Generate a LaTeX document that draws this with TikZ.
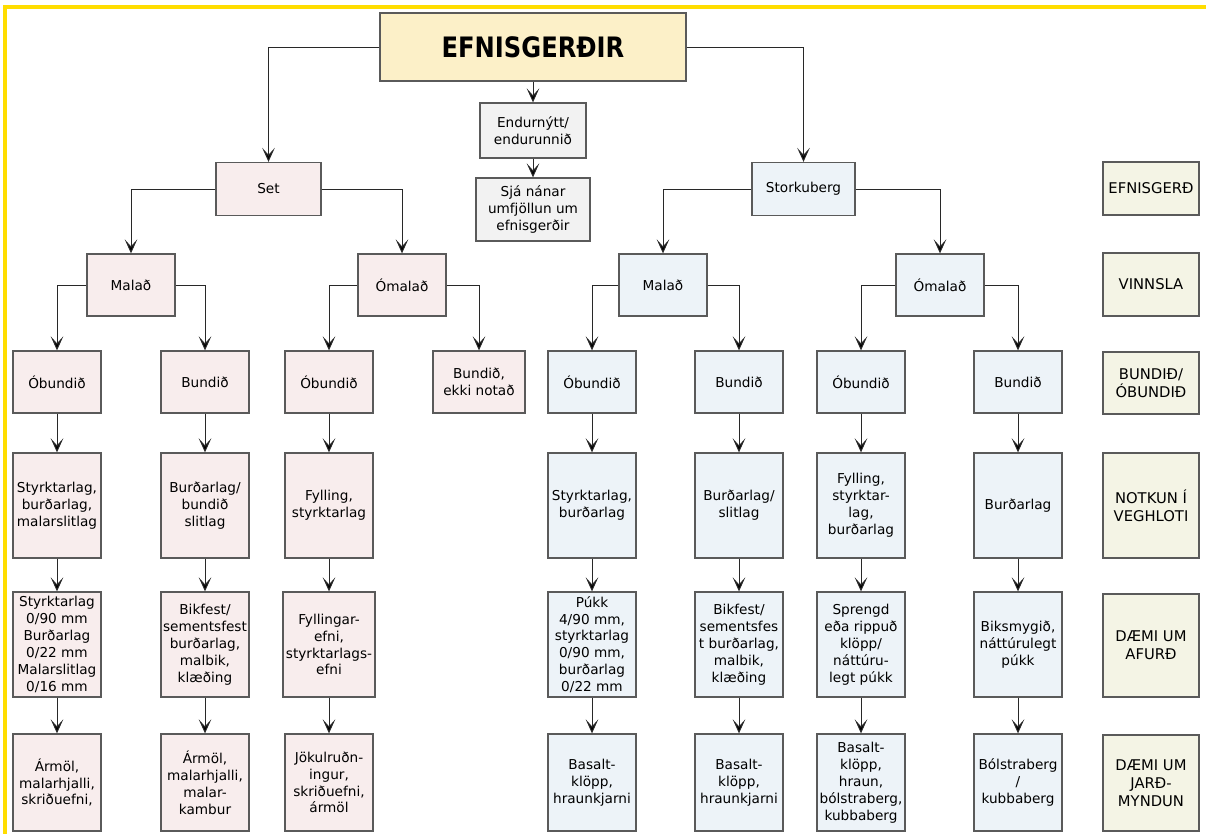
\documentclass[tikz,border=0pt]{standalone}
\usepackage{fontspec}
\setmainfont{DejaVu Sans}
\usetikzlibrary{positioning,arrows.meta}

\definecolor{topfill}{RGB}{252,240,200}
\definecolor{setfill}{RGB}{248,237,237}
\definecolor{stfill}{RGB}{237,243,248}
\definecolor{greyfill}{RGB}{242,242,242}
\definecolor{legfill}{RGB}{244,244,229}
\definecolor{boxline}{RGB}{90,90,90}
\definecolor{arrline}{RGB}{40,40,40}
\definecolor{frameyellow}{RGB}{255,221,0}

\tikzset{
  box/.style={draw=boxline,line width=0.9pt,align=center,inner sep=1pt,
    font=\fontsize{9.7}{12}\selectfont},
  setbox/.style={box,fill=setfill,minimum width=2.2cm},
  stbox/.style={box,fill=stfill,minimum width=2.2cm},
  greybox/.style={box,fill=greyfill},
  legbox/.style={box,fill=legfill,minimum width=2.4cm,
    font=\fontsize{10.5}{13}\selectfont},
  rowa/.style={minimum height=1.55cm},
  rowb/.style={minimum height=2.625cm},
  rowc/.style={minimum height=2.425cm},
  arr/.style={draw=arrline,line width=0.7pt,
    -{Stealth[length=10pt,width=9pt,inset=5pt,fill=black]}},
}

\begin{document}
\begin{tikzpicture}[x=0.025cm,y=-0.025cm]
  \useasboundingbox (0,0) rectangle (1206,834);
  \draw[frameyellow,line width=2.5pt] (5,834) -- (5,7) -- (1206,7);

  % top
  \node[box,fill=topfill,minimum width=7.65cm,minimum height=1.7cm,
    font=\fontsize{20}{24}\selectfont\bfseries] (top) at (533,47) {\scalebox{0.86}[1]{EFNISGERÐIR}};
  \node[greybox,minimum width=2.65cm,minimum height=1.375cm] (endu) at (533,130.5) {Endurnýtt/\\endurunnið};
  \node[greybox,minimum width=2.85cm,minimum height=1.575cm] (sja) at (533,209.5) {Sjá nánar\\umfjöllun um\\efnisgerðir};
  \node[setbox,minimum width=2.625cm,minimum height=1.325cm] (set) at (268.5,189) {Set};
  \node[stbox,minimum width=2.575cm,minimum height=1.325cm] (stork) at (803.5,189) {Storkuberg};

  % vinnsla
  \node[setbox,rowa] (mal1) at (131,285) {Malað};
  \node[setbox,rowa] (oml1) at (402,285) {Ómalað};
  \node[stbox,rowa] (mal2) at (663,285) {Malað};
  \node[stbox,rowa] (oml2) at (940,285) {Ómalað};

  % bundid / obundid
  \node[setbox,rowa] (ob1) at (57,382) {Óbundið};
  \node[setbox,rowa] (bu1) at (205,382) {Bundið};
  \node[setbox,rowa] (ob2) at (329,382) {Óbundið};
  \node[setbox,rowa,minimum width=2.3cm] (bu2) at (479,382) {Bundið,\\ekki notað};
  \node[stbox,rowa] (ob3) at (592,382) {Óbundið};
  \node[stbox,rowa] (bu3) at (739,382) {Bundið};
  \node[stbox,rowa] (ob4) at (861,382) {Óbundið};
  \node[stbox,rowa] (bu4) at (1018,382) {Bundið};

  % notkun i veghloti
  \node[setbox,rowb] (nk1) at (57,505.5) {Styrktarlag,\\burðarlag,\\malarslitlag};
  \node[setbox,rowb] (nk2) at (205,505.5) {Burðarlag/\\bundið\\slitlag};
  \node[setbox,rowb] (nk3) at (329,505.5) {Fylling,\\styrktarlag};
  \node[stbox,rowb] (nk5) at (592,505.5) {Styrktarlag,\\burðarlag};
  \node[stbox,rowb] (nk6) at (739,505.5) {Burðarlag/\\slitlag};
  \node[stbox,rowb] (nk7) at (861,505.5) {Fylling,\\styrktar-\\lag,\\burðarlag};
  \node[stbox,rowb] (nk8) at (1018,505.5) {Burðarlag};

  % daemi um afurd
  \node[setbox,rowb] (af1) at (57,644.5) {Styrktarlag\\0/90 mm\\Burðarlag\\0/22 mm\\Malarslitlag\\0/16 mm};
  \node[setbox,rowb] (af2) at (205,644.5) {Bikfest/\\sementsfest\\burðarlag,\\malbik,\\klæðing};
  \node[setbox,rowb,minimum width=2.3cm] (af3) at (329,644.5) {Fyllingar-\\efni,\\styrktarlags-\\efni};
  \node[stbox,rowb] (af5) at (592,644.5) {Púkk\\4/90 mm,\\styrktarlag\\0/90 mm,\\burðarlag\\0/22 mm};
  \node[stbox,rowb] (af6) at (739,644.5) {Bikfest/\\sementsfes\\t burðarlag,\\malbik,\\klæðing};
  \node[stbox,rowb] (af7) at (861,644.5) {Sprengd\\eða rippuð\\klöpp/\\náttúru-\\legt púkk};
  \node[stbox,rowb] (af8) at (1018,644.5) {Biksmygið,\\náttúrulegt\\púkk};

  % daemi um jardmyndun
  \node[setbox,rowc] (jm1) at (57,782.5) {Ármöl,\\malarhjalli,\\skriðuefni,};
  \node[setbox,rowc] (jm2) at (205,782.5) {Ármöl,\\malarhjalli,\\malar-\\kambur};
  \node[setbox,rowc] (jm3) at (329,782.5) {Jökulruðn-\\ingur,\\skriðuefni,\\ármöl};
  \node[stbox,rowc] (jm5) at (592,782.5) {Basalt-\\klöpp,\\hraunkjarni};
  \node[stbox,rowc] (jm6) at (739,782.5) {Basalt-\\klöpp,\\hraunkjarni};
  \node[stbox,rowc] (jm7) at (861,782.5) {Basalt-\\klöpp,\\hraun,\\bólstraberg,\\kubbaberg};
  \node[stbox,rowc] (jm8) at (1018,782.5) {Bólstraberg\\/\\kubbaberg};

  % legend
  \node[legbox,minimum height=1.325cm] (lg1) at (1151,188.5) {EFNISGERÐ};
  \node[legbox,minimum height=1.575cm] (lg2) at (1151,284.5) {VINNSLA};
  \node[legbox,minimum height=1.55cm] (lg3) at (1151,383) {BUNDIÐ/\\ÓBUNDIÐ};
  \node[legbox,minimum height=2.625cm] (lg4) at (1151,505.5) {NOTKUN Í\\VEGHLOTI};
  \node[legbox,minimum height=2.575cm] (lg5) at (1151,645.5) {DÆMI UM\\AFURÐ};
  \node[legbox,minimum height=2.4cm] (lg6) at (1151,783) {DÆMI UM\\JARÐ-\\MYNDUN};

  % connectors
  \draw[arr] (top.west) -| (set);
  \draw[arr] (top.east) -| (stork);
  \path[arr] (top) edge (endu) (endu) edge (sja);
  \draw[arr] (set.west) -| (mal1);
  \draw[arr] (set.east) -| (oml1);
  \draw[arr] (stork.west) -| (mal2);
  \draw[arr] (stork.east) -| (oml2);
  \draw[arr] (mal1.west) -| (ob1);
  \draw[arr] (mal1.east) -| (bu1);
  \draw[arr] (oml1.west) -| (ob2);
  \draw[arr] (oml1.east) -| (bu2);
  \draw[arr] (mal2.west) -| (ob3);
  \draw[arr] (mal2.east) -| (bu3);
  \draw[arr] (oml2.west) -| (ob4);
  \draw[arr] (oml2.east) -| (bu4);
  \foreach \c/\a/\b/\d in {1/ob1/nk1/af1, 2/bu1/nk2/af2, 3/ob2/nk3/af3,
      5/ob3/nk5/af5, 6/bu3/nk6/af6, 7/ob4/nk7/af7, 8/bu4/nk8/af8} {
    \path[arr] (\a) edge (\b) (\b) edge (\d) (\d) edge (jm\c);
  }
\end{tikzpicture}
\end{document}
